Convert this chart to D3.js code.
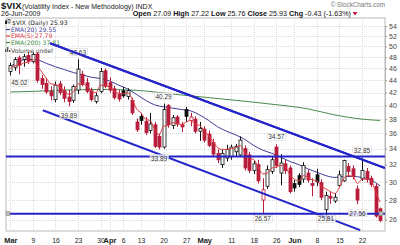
<!DOCTYPE html>
<html lang="en">
<head>
<meta charset="UTF-8">
<title>$VIX Daily</title>
<script src="https://d3js.org/d3.v7.min.js"></script>
<style>
  body { margin: 0; background: #fff; }
  svg { display: block; font-family: "Liberation Sans", Arial, sans-serif; }
  .legend text { font-family: "DejaVu Sans", sans-serif; font-size: 6.1px; }
</style>
</head>
<body>
<script>
// daily candles, 2 Mar - 26 Jun 2009 (one entry per trading day)
const open  = [45.5,46.2,47.9,47.6,48.3,47.2,48.6,44.3,43.5,42.2,40.9,43.4,42.3,41.3,40.8,42.4,45.0,43.6,42.3,40.6,
               42.2,45.6,43.6,42.6,41.8,42.3,41.4,40.8,37.6,38.4,37.7,36.4,37.2,35.6,34.2,40.0,37.1,38.3,37.2,39.4,
               37.8,38.0,36.3,36.6,35.9,34.8,33.4,32.0,32.8,33.0,33.6,33.2,34.0,33.2,31.3,32.0,28.0,29.5,31.2,34.2,
               31.0,32.1,31.6,29.8,30.7,30.3,31.0,29.8,30.8,29.9,27.0,28.4,27.9,29.6,30.1,31.8,31.5,29.2,30.4,31.2,
               30.4,29.5,27.09];
const high  = [47.0,48.0,48.3,48.6,49.0,48.9,48.9,44.9,44.3,43.0,43.8,43.9,43.0,42.4,43.3,47.63,45.6,44.4,42.8,42.0,
               46.1,46.0,44.5,43.1,42.4,42.9,42.7,41.2,38.1,38.9,38.3,38.9,37.6,36.0,40.29,40.2,38.6,38.6,37.6,39.8,
               38.9,38.4,37.6,37.0,36.4,35.3,33.9,33.9,34.5,34.5,34.6,35.6,34.4,33.6,32.5,32.6,30.4,31.9,33.0,34.57,
               33.3,32.6,31.9,30.2,31.0,32.3,31.4,30.4,31.5,30.3,28.9,28.9,28.7,31.3,32.6,32.2,31.9,29.6,32.85,31.6,
               30.7,29.8,27.22];
const low   = [44.8,45.6,45.02,46.3,46.8,46.9,43.6,42.6,41.8,40.8,40.5,41.6,40.5,39.89,40.4,41.8,43.0,41.9,40.6,40.3,
               41.9,42.7,42.0,40.9,40.6,41.2,40.9,38.6,36.2,37.2,35.8,36.0,34.1,33.89,34.0,36.8,36.6,36.9,36.2,37.6,
               37.0,36.0,35.0,34.8,34.2,33.0,32.2,31.6,32.4,32.6,33.0,33.0,31.3,31.0,30.9,29.8,26.57,29.2,30.9,31.6,
               29.6,30.9,28.7,28.9,29.4,29.9,29.9,28.4,29.5,28.0,25.81,27.6,27.7,29.4,30.0,30.6,30.3,27.56,30.1,29.9,
               29.4,26.2,25.76];
const close = [46.5,47.6,46.6,48.1,47.3,48.5,44.0,43.3,42.1,41.5,43.2,42.0,41.1,40.6,43.0,45.9,43.3,42.2,40.9,41.5,
               45.5,43.0,42.4,41.2,41.0,41.5,42.3,38.9,36.5,37.8,36.1,37.3,34.3,34.2,39.4,37.2,38.2,37.3,36.9,38.4,
               38.3,36.3,36.7,35.1,34.4,33.3,32.6,33.4,33.9,34.2,34.3,35.1,31.6,31.3,32.1,30.1,29.1,31.4,32.6,31.9,
               32.2,31.3,28.9,29.3,29.7,31.9,30.2,29.6,30.0,28.3,28.5,28.2,28.3,30.8,32.5,31.2,30.6,28.0,31.3,30.3,
               29.7,26.36,25.93];

// moving averages
const ema5 = [46.0,46.5,46.5,47.0,47.1,47.6,46.4,45.4,44.3,43.4,43.3,42.9,42.3,41.7,42.1,43.4,43.4,43.0,42.3,42.0,
              43.2,43.1,42.9,42.3,41.9,41.8,42.0,41.0,39.5,38.9,38.0,37.8,36.6,35.8,37.0,37.1,37.5,37.4,37.2,37.6,
              37.8,37.3,37.1,36.4,35.7,34.9,34.1,33.9,33.9,34.0,34.1,34.4,33.5,32.8,32.6,31.7,30.9,31.0,31.6,31.7,
              31.9,31.7,30.8,30.3,30.1,30.7,30.5,30.2,30.1,29.5,29.2,28.9,28.7,29.4,30.4,30.7,30.6,29.8,30.3,30.3,
              30.1,28.9,27.79];
const ema20Day = [0,2,4,6,8,10,12,14,16,18,20,22,24,26,28,30,32,34,36,38,40,42,44,46,48,50,52,54,56,58,60,62,64,66,68,70,72,74,76,78,80,82];
const ema20    = [46.3,47.3,47.6,47.5,46.9,46.3,45.8,45.3,44.9,44.5,44.3,43.9,43.2,42.6,41.7,40.8,40.1,39.8,39.6,39.4,
                  39.2,38.6,37.8,36.9,36.3,35.8,35.2,34.4,33.8,33.4,32.9,32.4,32.0,31.5,31.1,30.7,30.5,30.6,30.6,30.5,
                  30.2,29.55];
const ema200Day = [0,5,12,20,27,37,47,58,66,72,78,82];
const ema200    = [42.1,42.2,42.4,42.5,42.4,41.7,41.0,40.2,39.5,38.6,38.0,37.81];

// x axis ticks (trading-day index) and price ticks
const tickDay    = [0,5,10,15,20,22,25,29,34,39,43,49,54,59,63,68,73,78];
const tickLabels = ["Mar","9","16","23","30","Apr","6","13","20","27","May","11","18","26","Jun","8","15","22"];
const priceTicks = [26,28,30,32,34,36,38,40,42,44,46,48,50,52,54];

// annotations: swing highs / lows, channel lines, horizontal levels
const highMarks = [[15,47.63],[34,40.29],[59,34.57],[78,32.85]];
const lowMarks  = [[2,45.02],[13,39.89],[33,33.89],[56,26.57],[70,25.81],[77,27.56]];
const channels  = [[[8.8,50.6],[83.1,31.6]], [[7.2,39.3],[77.6,25.0]]];
const levels    = [33.0, 26.6];

const W = 400, H = 245;
const plot = { left: 6, right: 385, top: 18, bottom: 231 };
const RED = "#b81e3c";
const BLUE = "#2424c8";

const svg = d3.select("body").append("svg")
    .attr("width", W)
    .attr("height", H);

const x = d3.scaleLinear().domain([-0.96, 83.1]).range([plot.left, plot.right]);
const y = d3.scaleLog().domain([26, 54]).range([219.7, 26]);

svg.append("defs").append("clipPath").attr("id", "clip")
  .append("rect")
    .attr("x", plot.left).attr("y", plot.top)
    .attr("width", plot.right - plot.left).attr("height", plot.bottom - plot.top);

// plot frame + grid
svg.append("rect")
    .attr("x", plot.left).attr("y", plot.top)
    .attr("width", plot.right - plot.left).attr("height", plot.bottom - plot.top)
    .attr("fill", "#fff").attr("stroke", "#b8b8b8");

const grid = svg.append("g").attr("stroke", "#dcdcdc").attr("stroke-dasharray", "1,1");
grid.selectAll(".gx").data(tickDay).join("line")
    .attr("x1", d => Math.round(x(d)) + 0.5).attr("x2", d => Math.round(x(d)) + 0.5)
    .attr("y1", plot.top).attr("y2", plot.bottom);
grid.selectAll(".gy").data(priceTicks).join("line")
    .attr("x1", plot.left).attr("x2", plot.right)
    .attr("y1", d => Math.round(y(d)) + 0.5).attr("y2", d => Math.round(y(d)) + 0.5);

// axes
const yAxis = svg.append("g")
    .attr("transform", `translate(${plot.right},0)`)
    .call(d3.axisRight(y).tickValues(priceTicks).tickSize(2).tickPadding(2).tickFormat(d3.format("d")));
yAxis.select(".domain").attr("stroke", "#b8b8b8");
yAxis.selectAll("line").attr("stroke", "#999");
yAxis.selectAll("text").attr("font-size", 7).attr("fill", "#444")
    .attr("font-family", "Liberation Sans, Arial, sans-serif");

const xAxis = svg.append("g")
    .attr("transform", `translate(0,${plot.bottom})`)
    .call(d3.axisBottom(x).tickValues(tickDay).tickSize(0).tickPadding(7)
        .tickFormat((d, i) => tickLabels[i]));
xAxis.select(".domain").remove();
xAxis.selectAll("text")
    .attr("font-family", "Liberation Sans, Arial, sans-serif")
    .attr("fill", "#222")
    .attr("font-size", (d, i) => isNaN(+tickLabels[i]) ? 7.5 : 6.8)
    .attr("font-weight", (d, i) => isNaN(+tickLabels[i]) ? "bold" : "normal");

const chart = svg.append("g").attr("clip-path", "url(#clip)");

const line = d3.line().curve(d3.curveMonotoneX);

// EMA(200) and EMA(20) under the candles
chart.append("path")
    .attr("d", line(ema200Day.map((d, i) => [x(d), y(ema200[i])])))
    .attr("fill", "none").attr("stroke", "#4a8a4a").attr("stroke-width", 1);
chart.append("path")
    .attr("d", line(ema20Day.map((d, i) => [x(d), y(ema20[i])])))
    .attr("fill", "none").attr("stroke", "#3c3c96").attr("stroke-width", 1);

// candles
const days = d3.range(close.length);
const candleColor = i => (i > 0 && close[i] < close[i - 1]) ? RED : "#111";
const candles = chart.selectAll(".candle").data(days).join("g");
candles.append("line")
    .attr("x1", i => Math.round(x(i)) + 0.5).attr("x2", i => Math.round(x(i)) + 0.5)
    .attr("y1", i => y(high[i])).attr("y2", i => y(low[i]))
    .attr("stroke", candleColor);
candles.append("rect")
    .attr("x", i => Math.round(x(i)) - 1)
    .attr("width", 3)
    .attr("y", i => y(Math.max(open[i], close[i])))
    .attr("height", i => Math.max(1, Math.abs(y(open[i]) - y(close[i]))))
    .attr("fill", i => close[i] > open[i] ? "#fff" : candleColor(i))
    .attr("stroke", candleColor)
    .attr("stroke-width", 0.8);

// EMA(5) on top of candles
chart.append("path")
    .attr("d", line(days.map(i => [x(i), y(ema5[i])])))
    .attr("fill", "none").attr("stroke", "#e0393e").attr("stroke-width", 1);

// trend channel and horizontal levels
chart.selectAll(".chan").data(channels).join("line")
    .attr("x1", d => x(d[0][0])).attr("y1", d => y(d[0][1]))
    .attr("x2", d => x(d[1][0])).attr("y2", d => y(d[1][1]))
    .attr("stroke", BLUE).attr("stroke-width", 2);
chart.selectAll(".lvl").data(levels).join("line")
    .attr("x1", plot.left).attr("x2", plot.right)
    .attr("y1", d => y(d)).attr("y2", d => y(d))
    .attr("stroke", BLUE).attr("stroke-width", 2);
// line handles on the lower level
[plot.left + 2, x(82) + 1].forEach(hx => {
    svg.append("rect").attr("x", hx - 2).attr("y", y(levels[1]) - 2)
        .attr("width", 4).attr("height", 4)
        .attr("fill", "#bbb").attr("stroke", "#888").attr("stroke-width", 0.5);
});

// swing labels
function tag(cx, cy, txt) {
    const g = svg.append("g");
    const t = g.append("text")
        .attr("x", cx).attr("y", cy).attr("dy", "0.35em")
        .attr("text-anchor", "middle")
        .attr("font-size", 6.5).attr("fill", "#333")
        .text(txt);
    const b = t.node().getBBox();
    g.insert("rect", "text")
        .attr("x", b.x - 1).attr("y", b.y)
        .attr("width", b.width + 2).attr("height", b.height)
        .attr("fill", "#fff").attr("fill-opacity", 0.75)
        .attr("stroke", "#d0d0d0").attr("stroke-width", 0.5);
}
highMarks.forEach(([d, v]) => tag(x(d), y(v) - 7, v.toFixed(2)));
lowMarks.forEach(([d, v]) => tag(x(d), Math.min(y(v) + 9, 219), v.toFixed(2)));

// legend inside the plot
const lg = svg.append("g").attr("class", "legend");
lg.append("rect").attr("x", 5).attr("y", 20.5).attr("width", 2).attr("height", 3.5).attr("fill", "#222");
lg.append("rect").attr("x", 8).attr("y", 19.5).attr("width", 2).attr("height", 3.5).attr("fill", "#fff").attr("stroke", "#222").attr("stroke-width", 0.6);
lg.append("text").attr("x", 12).attr("y", 25).attr("fill", "#222").text("$VIX (Daily) 25.93");
const legendRows = [
    ["EMA(20) 29.55", "#3c3c96", 31.5],
    ["EMA(5) 27.79", "#e0393e", 38],
    ["EMA(200) 37.81", "#3f8a3f", 44.5]
];
legendRows.forEach(([txt, c, ly]) => {
    lg.append("line").attr("x1", 6).attr("x2", 10).attr("y1", ly - 2).attr("y2", ly - 2)
        .attr("stroke", c).attr("stroke-width", 1.2);
    lg.append("text").attr("x", 11).attr("y", ly).attr("fill", c).text(txt);
});
[[5, 3], [7, 5], [9, 2]].forEach(([bx, bh]) => {
    lg.append("rect").attr("x", bx).attr("y", 52 - bh).attr("width", 1.3).attr("height", bh).attr("fill", "#555");
});
lg.append("text").attr("x", 11).attr("y", 52.5).attr("fill", "#444").text("Volume undef");

// channel line overdraws the legend just like the original
svg.append("g").attr("clip-path", "url(#clip)")
  .selectAll("line").data(channels.slice(0, 1)).join("line")
    .attr("x1", d => x(d[0][0])).attr("y1", d => y(d[0][1]))
    .attr("x2", d => x(d[1][0])).attr("y2", d => y(d[1][1]))
    .attr("stroke", BLUE).attr("stroke-width", 2);

// header
svg.append("text").attr("x", 1).attr("y", 9)
    .attr("font-size", 9.5).attr("font-weight", "bold").attr("fill", "#111").text("$VIX");
svg.append("text").attr("x", 22).attr("y", 8.5)
    .attr("font-size", 7).attr("fill", "#222").text("(Volatility Index - New Methodology) INDX");
svg.append("text").attr("x", 1).attr("y", 16)
    .attr("font-size", 7).attr("fill", "#222").text("26-Jun-2009");
svg.append("text").attr("x", 385).attr("y", 7)
    .attr("text-anchor", "end").attr("font-size", 6.3).attr("fill", "#777").text("© StockCharts.com");

const quote = [["Open", "27.09"], ["High", "27.22"], ["Low", "25.76"], ["Close", "25.93"], ["Chg", "-0.43 (-1.63%)"]];
const qt = svg.append("text").attr("x", 351).attr("y", 16)
    .attr("text-anchor", "end").attr("font-size", 7.2).attr("fill", "#111");
quote.forEach(([k, v], i) => {
    qt.append("tspan").attr("font-weight", "bold").text((i ? " " : "") + k + " ");
    qt.append("tspan").text(v);
});
svg.append("path").attr("d", "M352.5,12 L357.5,12 L355,15.5 Z").attr("fill", RED);
</script>
</body>
</html>
